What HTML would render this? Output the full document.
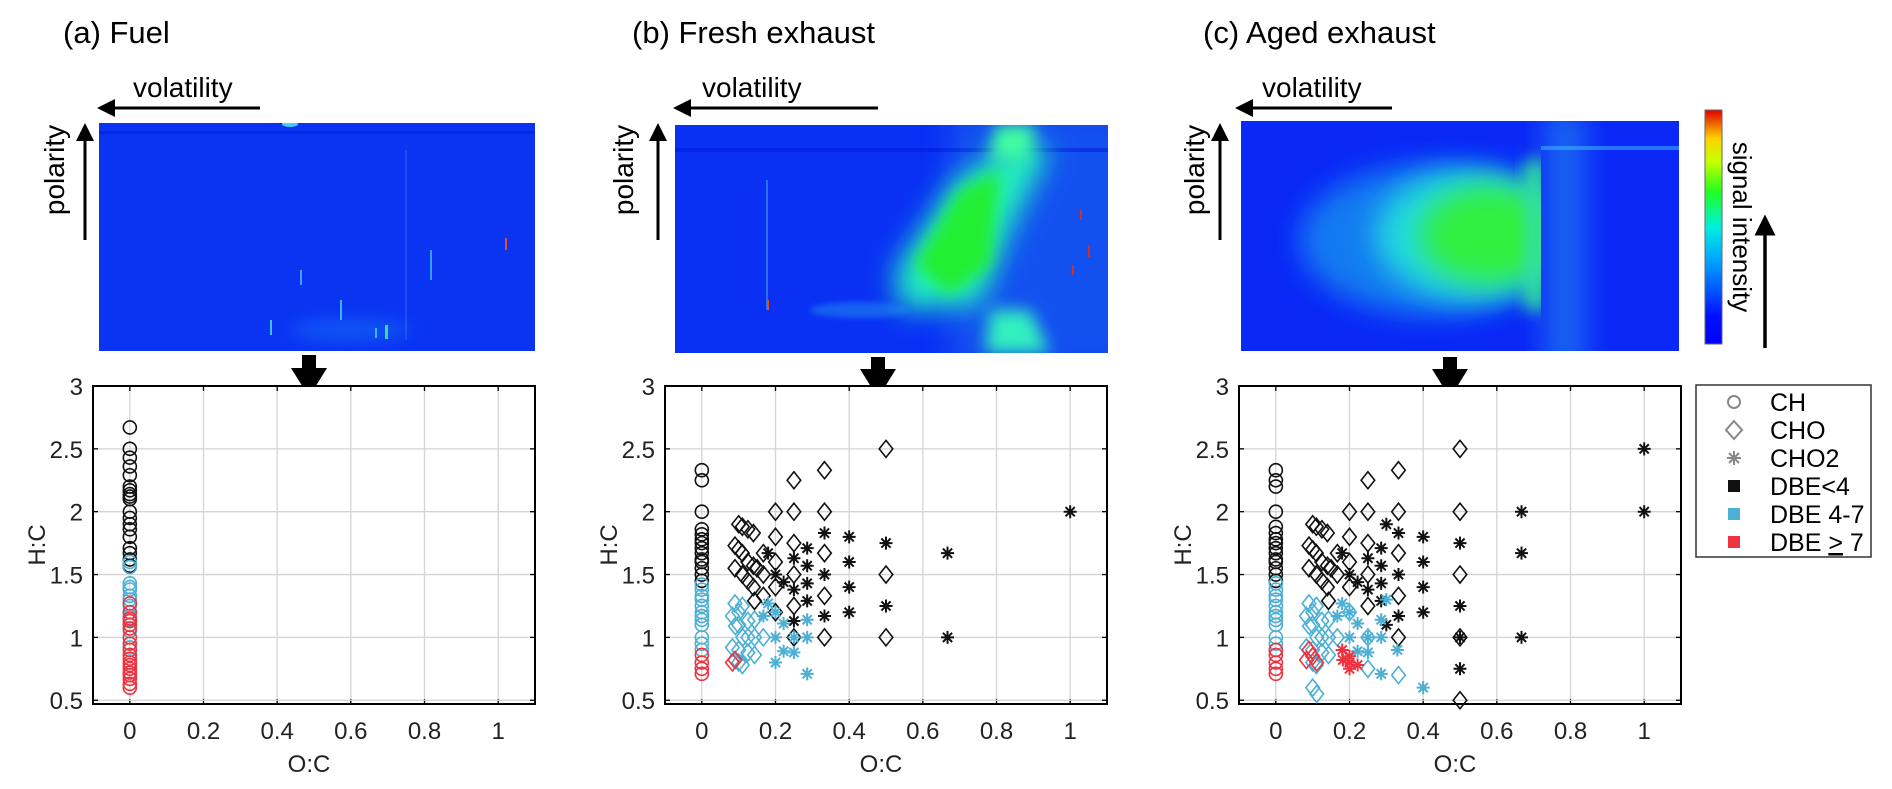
<!DOCTYPE html>
<html><head><meta charset="utf-8"><style>
html,body{margin:0;padding:0;background:#fff;}
svg{display:block;font-family:"Liberation Sans",Arial,sans-serif;}
</style></head><body>
<svg id="fig" width="1892" height="789" viewBox="0 0 1892 789" xmlns="http://www.w3.org/2000/svg">
<defs>
<filter id="b8" x="-50%" y="-50%" width="200%" height="200%"><feGaussianBlur stdDeviation="8"/></filter>
<filter id="b14" x="-50%" y="-50%" width="200%" height="200%"><feGaussianBlur stdDeviation="14"/></filter>
<filter id="b3" x="-50%" y="-50%" width="200%" height="200%"><feGaussianBlur stdDeviation="3"/></filter>
<clipPath id="cA"><rect x="99" y="123" width="436" height="228"/></clipPath>
<clipPath id="cB"><rect x="675" y="125" width="433" height="228"/></clipPath>
<clipPath id="cC"><rect x="1241" y="121" width="438" height="230"/></clipPath>
<clipPath id="cC2"><rect x="1241" y="121" width="300" height="230"/></clipPath>
<linearGradient id="jet" x1="0" y1="1" x2="0" y2="0">
<stop offset="0" stop-color="#0000ff"/><stop offset="0.12" stop-color="#0010ff"/><stop offset="0.35" stop-color="#00a0ff"/><stop offset="0.5" stop-color="#00f0e0"/><stop offset="0.65" stop-color="#20ff20"/><stop offset="0.78" stop-color="#c8ff00"/><stop offset="0.88" stop-color="#ffd000"/><stop offset="1" stop-color="#e00000"/>
</linearGradient>
<marker id="ah" markerWidth="6" markerHeight="6" refX="1" refY="3" orient="auto"><path d="M0,0 L6,3 L0,6 z" fill="#000"/></marker>
</defs>

<!-- Titles -->
<text x="63" y="43" font-size="31">(a) Fuel</text>
<text x="632" y="43" font-size="31">(b) Fresh exhaust</text>
<text x="1203" y="43" font-size="31">(c) Aged exhaust</text>

<!-- Heatmap A -->
<g clip-path="url(#cA)">
<rect x="99" y="123" width="436" height="228" fill="#0a34f2"/>
<rect x="99" y="131" width="436" height="3" fill="#0018d8" opacity="0.5"/>
<ellipse cx="350" cy="330" rx="60" ry="10" fill="#1a8cf5" opacity="0.4" filter="url(#b8)"/>
<rect x="385" y="325" width="3" height="14" fill="#30e0a0"/>
<rect x="375" y="328" width="2" height="10" fill="#30c0ff"/>
<rect x="505" y="238" width="2" height="12" fill="#e05020"/>
<rect x="405" y="150" width="2" height="190" fill="#2a6cf5" opacity="0.5"/>
<rect x="340" y="300" width="2" height="20" fill="#40b0ff"/>
<rect x="300" y="270" width="2" height="15" fill="#40a0ff"/>
<rect x="430" y="250" width="2" height="30" fill="#30a0ff"/>
<rect x="270" y="320" width="2" height="15" fill="#40c0ff"/>
<ellipse cx="290" cy="124" rx="8" ry="3" fill="#40d0ff"/>
</g>
<!-- Heatmap B -->
<g clip-path="url(#cB)">
<rect x="675" y="125" width="433" height="228" fill="#0a30f4"/>
<rect x="950" y="110" width="180" height="260" fill="#1258f0" opacity="0.8" filter="url(#b14)"/>
<rect x="675" y="148" width="433" height="4" fill="#0018d8" opacity="0.5"/>
<polygon points="895,270 955,180 1020,140 1050,150 1010,230 980,305 900,310" fill="#20f0c0" filter="url(#b14)"/>
<polygon points="915,265 960,190 1000,170 990,265 950,295" fill="#20ee30" filter="url(#b8)"/>
<polygon points="995,125 1035,125 1030,160 990,160" fill="#40ffa0" filter="url(#b8)"/>
<polygon points="990,310 1030,310 1050,353 985,353" fill="#30f0c0" filter="url(#b8)"/>
<ellipse cx="860" cy="310" rx="50" ry="8" fill="#2090f0" opacity="0.5" filter="url(#b3)"/>
<rect x="766" y="180" width="2" height="130" fill="#3080ff" opacity="0.8"/>
<rect x="767" y="300" width="2" height="10" fill="#e05020"/>
<rect x="1080" y="210" width="2" height="10" fill="#d03020"/>
<rect x="1088" y="245" width="2" height="12" fill="#d03020"/>
<rect x="1072" y="265" width="2" height="10" fill="#d03020"/>
</g>
<!-- Heatmap C -->
<g clip-path="url(#cC)">
<rect x="1241" y="121" width="438" height="230" fill="#0a28f6"/>
<rect x="1545" y="110" width="40" height="260" fill="#2080f0" opacity="0.7" filter="url(#b14)"/>
<rect x="1541" y="146" width="138" height="4" fill="#40c0ff" opacity="0.5"/>
<g clip-path="url(#cC2)">
<ellipse cx="1430" cy="240" rx="130" ry="75" fill="#1890f0" opacity="0.8" filter="url(#b14)"/>
<ellipse cx="1470" cy="235" rx="95" ry="65" fill="#20d8e0" filter="url(#b14)"/>
<ellipse cx="1490" cy="235" rx="70" ry="48" fill="#30f040" filter="url(#b14)"/>
<rect x="1525" y="160" width="20" height="150" fill="#30e0a0" filter="url(#b8)"/>
</g>
</g>
<!-- colorbar -->
<rect x="1705" y="110" width="17" height="234" fill="url(#jet)" stroke="#666" stroke-width="1"/>
<text transform="translate(1733,227) rotate(90)" font-size="26" text-anchor="middle">signal intensity</text>
<line x1="1765" y1="348" x2="1765" y2="232" stroke="#000" stroke-width="3.5" marker-end="url(#ah)"/>

<!-- volatility / polarity labels -->
<g>
<text x="133" y="97" font-size="28">volatility</text>
<line x1="260" y1="108" x2="112" y2="108" stroke="#000" stroke-width="3" marker-end="url(#ah)"/>
<text transform="translate(64,170) rotate(-90)" font-size="28" text-anchor="middle">polarity</text>
<line x1="85" y1="240" x2="85" y2="138" stroke="#000" stroke-width="3" marker-end="url(#ah)"/>
<text x="702" y="97" font-size="28">volatility</text>
<line x1="878" y1="108" x2="688" y2="108" stroke="#000" stroke-width="3" marker-end="url(#ah)"/>
<text transform="translate(633,170) rotate(-90)" font-size="28" text-anchor="middle">polarity</text>
<line x1="658" y1="240" x2="658" y2="138" stroke="#000" stroke-width="3" marker-end="url(#ah)"/>
<text x="1262" y="97" font-size="28">volatility</text>
<line x1="1392" y1="108" x2="1250" y2="108" stroke="#000" stroke-width="3" marker-end="url(#ah)"/>
<text transform="translate(1204,170) rotate(-90)" font-size="28" text-anchor="middle">polarity</text>
<line x1="1220" y1="240" x2="1220" y2="138" stroke="#000" stroke-width="3" marker-end="url(#ah)"/>
</g>
<!-- down arrows -->
<polygon points="302,355 316,355 316,368 327,368 309,397 291,368 302,368" fill="#000"/>
<polygon points="871,357 885,357 885,369 896,369 878,398 860,369 871,369" fill="#000"/>
<polygon points="1443,357 1457,357 1457,369 1468,369 1450,398 1432,369 1443,369" fill="#000"/>

<g id="plots"></g>

<!-- Legend -->
<g>
<rect x="1696" y="385" width="175" height="172" fill="#fff" stroke="#333" stroke-width="1.5"/>
<g><circle cx="1734" cy="402" r="6" fill="none" stroke="#888" stroke-width="2"/><text x="1770" y="411" font-size="25">CH</text></g>
<g><polygon points="1734,421 1742,430 1734,439 1726,430" fill="none" stroke="#888" stroke-width="2"/><text x="1770" y="439" font-size="25">CHO</text></g>
<g><path d="M1727,458h14M1734,451v14M1729,453l10,10M1739,453l-10,10" stroke="#888" stroke-width="2"/><text x="1770" y="467" font-size="25">CHO2</text></g>
<g><rect x="1728" y="480" width="12" height="12" fill="#111"/><text x="1770" y="495" font-size="25">DBE&lt;4</text></g>
<g><rect x="1728" y="508" width="12" height="12" fill="#4bb0d4"/><text x="1770" y="523" font-size="25">DBE 4-7</text></g>
<g><rect x="1728" y="536" width="12" height="12" fill="#ee3340"/><text x="1770" y="551" font-size="25">DBE <tspan text-decoration="underline">&gt;</tspan> 7</text></g>
</g>
</svg>
<script>
// ---- data (O:C, H:C) ----
const xTicks = [0, 0.2, 0.4, 0.6, 0.8, 1];
const xTickLabels = ["0", "0.2", "0.4", "0.6", "0.8", "1"];
const yTicks = [0.5, 1, 1.5, 2, 2.5, 3];
const yTickLabels = ["0.5", "1", "1.5", "2", "2.5", "3"];

const fuelCH_low = [2.67,2.5,2.43,2.36,2.29,2.2,2.17,2.14,2.12,2.1,2.0,1.95,1.9,1.86,1.8,1.71,1.67,1.62,1.57];
const fuelCH_mid = [1.6,1.56,1.43,1.4,1.38,1.33,1.3,1.25,1.2,1.17,1.14,1.1,1.05,0.92];
const fuelCH_high = [1.27,1.2,1.15,1.13,1.1,1.07,1.0,0.95,0.9,0.86,0.83,0.8,0.78,0.75,0.72,0.7,0.67,0.63,0.6];

const freshCH_low = [2.33,2.25,2.0,1.86,1.82,1.78,1.75,1.71,1.67,1.62,1.6,1.55,1.5,1.45];
const freshCH_mid = [1.42,1.38,1.33,1.3,1.25,1.2,1.17,1.14,1.1,1.0,0.95,0.9];
const freshCH_high = [0.86,0.8,0.75,0.71];
const freshCHO_lowX = [0.1,0.11,0.125,0.14,0.09,0.1,0.11,0.125,0.14,0.09,0.11,0.125,0.14,0.15,0.167,0.167,0.2,0.2,0.2,0.2,0.25,0.25,0.25,0.25,0.25,0.25,0.333,0.333,0.333,0.333,0.333,0.5,0.5,0.5,0.143,0.167,0.2];
const freshCHO_lowY = [1.9,1.88,1.86,1.83,1.73,1.7,1.67,1.6,1.57,1.55,1.5,1.45,1.4,1.55,1.5,1.67,2.0,1.8,1.6,1.4,2.25,2.0,1.75,1.5,1.25,1.0,2.33,2.0,1.67,1.33,1.0,2.5,1.5,1.0,1.29,1.33,1.2];
const freshCHO_midX = [0.09,0.1,0.11,0.083,0.1,0.125,0.111,0.091,0.1,0.125,0.143,0.143,0.167,0.1,0.11,0.083,0.125,0.143];
const freshCHO_midY = [1.27,1.2,1.25,1.17,1.1,1.13,1.0,1.09,0.9,1.0,1.14,1.0,1.0,0.8,0.78,0.92,0.88,0.86];
const freshCHO_highX = [0.09,0.083];
const freshCHO_highY = [0.82,0.8];
const freshCHO2_lowX = [0.2,0.18,0.222,0.25,0.25,0.286,0.286,0.286,0.286,0.333,0.333,0.333,0.4,0.4,0.4,0.4,0.5,0.5,0.667,0.667,1,0.25];
const freshCHO2_lowY = [1.5,1.67,1.44,1.63,1.38,1.71,1.57,1.43,1.29,1.83,1.5,1.17,1.8,1.6,1.4,1.2,1.75,1.25,1.67,1.0,2.0,1.13];
const freshCHO2_midX = [0.18,0.2,0.2,0.222,0.25,0.222,0.2,0.25,0.286,0.286,0.286,0.167];
const freshCHO2_midY = [1.27,1.2,1.0,1.11,1.0,0.89,0.8,0.88,1.14,1.0,0.71,1.17];

const agedCH_low = [2.33,2.25,2.2,2.0,1.88,1.83,1.78,1.75,1.71,1.67,1.62,1.6,1.55,1.5,1.45];
const agedCH_mid = [1.43,1.38,1.33,1.3,1.25,1.2,1.17,1.14,1.1,1.0,0.95,0.9];
const agedCH_high = [0.9,0.86,0.8,0.75,0.71];
const agedCHO_lowX = [0.1,0.11,0.125,0.14,0.09,0.1,0.11,0.125,0.14,0.09,0.11,0.125,0.14,0.15,0.167,0.167,0.2,0.2,0.2,0.25,0.25,0.25,0.25,0.25,0.333,0.333,0.333,0.333,0.333,0.5,0.5,0.5,0.5,0.5,0.143,0.2];
const agedCHO_lowY = [1.9,1.88,1.86,1.83,1.73,1.7,1.67,1.6,1.57,1.55,1.5,1.45,1.4,1.55,1.5,1.67,2.0,1.8,1.6,2.25,2.0,1.75,1.5,1.25,2.33,2.0,1.67,1.33,1.0,2.5,2.0,1.5,1.0,0.5,1.29,1.4];
const agedCHO_midX = [0.09,0.1,0.11,0.083,0.1,0.125,0.111,0.091,0.1,0.125,0.143,0.143,0.167,0.1,0.11,0.083,0.125,0.143,0.1,0.111,0.2,0.25,0.25,0.333];
const agedCHO_midY = [1.27,1.2,1.25,1.17,1.1,1.13,1.0,1.09,0.9,1.0,1.14,1.0,1.0,0.8,0.78,0.92,0.88,0.86,0.6,0.55,1.2,1.0,0.75,0.7];
const agedCHO_highX = [0.09,0.083,0.1,0.111];
const agedCHO_highY = [0.9,0.82,0.85,0.8];
const agedCHO2_lowX = [0.2,0.18,0.222,0.25,0.25,0.286,0.286,0.286,0.286,0.333,0.333,0.333,0.4,0.4,0.4,0.4,0.5,0.5,0.5,0.5,0.667,0.667,0.667,1,1,0.3,0.3];
const agedCHO2_lowY = [1.5,1.67,1.44,1.63,1.38,1.71,1.57,1.43,1.29,1.83,1.5,1.17,1.8,1.6,1.4,1.2,1.75,1.25,1.0,0.75,2.0,1.67,1.0,2.5,2.0,1.9,1.1];
const agedCHO2_midX = [0.18,0.2,0.2,0.222,0.25,0.222,0.2,0.25,0.286,0.286,0.286,0.167,0.4,0.3,0.33];
const agedCHO2_midY = [1.27,1.2,1.0,1.11,1.0,0.89,0.8,0.88,1.14,1.0,0.71,1.17,0.6,1.3,0.9];
const agedCHO2_highX = [0.18,0.2,0.2,0.222,0.2,0.182];
const agedCHO2_highY = [0.9,0.85,0.8,0.78,0.75,0.82];

const NS = "http://www.w3.org/2000/svg";
const COLORS = {low:"#111111", mid:"#4bb0d4", high:"#ee3340"};
const plotsG = document.getElementById("plots");
const XMIN=-0.1, XMAX=1.1, YMIN=0.47, YMAX=3, TOP=386, BOT=704, W=442;

function mk(tag, attrs, parent){
  const e=document.createElementNS(NS,tag);
  for(const k in attrs) e.setAttribute(k,attrs[k]);
  parent.appendChild(e); return e;
}
function panel(id, left){
  const sx=v=>left+(v-XMIN)/(XMAX-XMIN)*W;
  const sy=v=>BOT-(v-YMIN)/(YMAX-YMIN)*(BOT-TOP);
  const g=mk("g",{},plotsG);
  
  
  mk("rect",{x:left,y:TOP,width:W,height:BOT-TOP,fill:"#fff"},g);
  xTicks.forEach((t,i)=>{
    const x=sx(t);
    mk("line",{x1:x,y1:TOP,x2:x,y2:BOT,stroke:"#d4d4d4","stroke-width":1.3},g);
    mk("line",{x1:x,y1:BOT,x2:x,y2:BOT-5,stroke:"#000","stroke-width":1.3},g);
    mk("line",{x1:x,y1:TOP,x2:x,y2:TOP+5,stroke:"#000","stroke-width":1.3},g);
    const tx=mk("text",{x:x,y:BOT+35,"font-size":24,"text-anchor":"middle",fill:"#222"},g);
    tx.textContent=xTickLabels[i];
    
    
  });
  yTicks.forEach((t,i)=>{
    const y=sy(t);
    mk("line",{x1:left,y1:y,x2:left+W,y2:y,stroke:"#d4d4d4","stroke-width":1.3},g);
    mk("line",{x1:left,y1:y,x2:left+5,y2:y,stroke:"#000","stroke-width":1.3},g);
    mk("line",{x1:left+W,y1:y,x2:left+W-5,y2:y,stroke:"#000","stroke-width":1.3},g);
    const tx=mk("text",{x:left-10,y:y+9,"font-size":24,"text-anchor":"end",fill:"#222"},g);
    tx.textContent=yTickLabels[i];
    
    
  });
  mk("rect",{x:left,y:TOP,width:W,height:BOT-TOP,fill:"none",stroke:"#000","stroke-width":2},g);
  const xl=mk("text",{x:left+W/2-5,y:BOT+68,"font-size":24,"text-anchor":"middle",fill:"#222"},g);
  xl.textContent="O:C";
  
  
  const yl=mk("text",{transform:`translate(${left-48},${(TOP+BOT)/2}) rotate(-90)`,"font-size":24,"text-anchor":"middle",fill:"#222"},g);
  yl.textContent="H:C";
  
  
  const mg=mk("g",{},g);
  return {sx,sy,mg};
}
function circles(p, ys, cls){
  ys.forEach(v=>{
    const c=mk("circle",{cx:p.sx(0),cy:p.sy(v),r:6.5,fill:"none",stroke:COLORS[cls],"stroke-width":1.6},p.mg);
    
    
  });
}
function diamonds(p, xs, ys, cls){
  xs.forEach((xv,i)=>{
    const x=p.sx(xv), y=p.sy(ys[i]), s=8.5;
    const d=mk("polygon",{points:`${x},${y-s} ${x+s*0.8},${y} ${x},${y+s} ${x-s*0.8},${y}`,fill:"none",stroke:COLORS[cls],"stroke-width":1.6},p.mg);
    
    
  });
}
function stars(p, xs, ys, cls){
  xs.forEach((xv,i)=>{
    const x=p.sx(xv), y=p.sy(ys[i]), s=6.5, q=4.6;
    const st=mk("path",{d:`M${x-s},${y}h${2*s}M${x},${y-s}v${2*s}M${x-q},${y-q}l${2*q},${2*q}M${x+q},${y-q}l${-2*q},${2*q}`,stroke:COLORS[cls],"stroke-width":2},p.mg);
    
    
  });
}
const pa=panel("fuel",93);
circles(pa,fuelCH_low,"low"); circles(pa,fuelCH_mid,"mid"); circles(pa,fuelCH_high,"high");
const pb=panel("fresh-exhaust",665);
circles(pb,freshCH_low,"low"); circles(pb,freshCH_mid,"mid"); circles(pb,freshCH_high,"high");
diamonds(pb,freshCHO_lowX,freshCHO_lowY,"low"); stars(pb,freshCHO2_lowX,freshCHO2_lowY,"low");
diamonds(pb,freshCHO_midX,freshCHO_midY,"mid"); stars(pb,freshCHO2_midX,freshCHO2_midY,"mid");
diamonds(pb,freshCHO_highX,freshCHO_highY,"high");
const pc=panel("aged-exhaust",1239);
circles(pc,agedCH_low,"low"); circles(pc,agedCH_mid,"mid"); circles(pc,agedCH_high,"high");
diamonds(pc,agedCHO_lowX,agedCHO_lowY,"low"); stars(pc,agedCHO2_lowX,agedCHO2_lowY,"low");
diamonds(pc,agedCHO_midX,agedCHO_midY,"mid"); stars(pc,agedCHO2_midX,agedCHO2_midY,"mid");
diamonds(pc,agedCHO_highX,agedCHO_highY,"high"); stars(pc,agedCHO2_highX,agedCHO2_highY,"high");
</script>
</body></html>
